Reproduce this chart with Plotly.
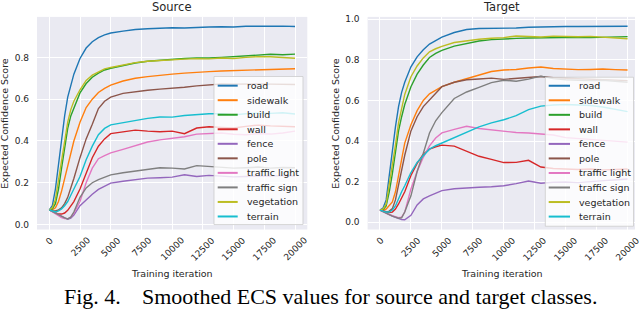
import plotly.graph_objects as go

W, H = 640, 310

ITER = [0, 250, 500, 750, 1000, 1250, 1500, 1750, 2000, 2500, 3000, 3500, 4000, 4500, 5000,
        6000, 7000, 8000, 9000, 10000, 11000, 12000, 13000, 14000, 15000, 16000, 17000, 18000, 19000, 20000]

CLASSES = ["road", "sidewalk", "build", "wall", "fence", "pole", "traffic light",
           "traffic sign", "vegetation", "terrain"]
COLORS = ["#1f77b4", "#ff7f0e", "#2ca02c", "#d62728", "#9467bd", "#8c564b", "#e377c2",
          "#7f7f7f", "#bcbd22", "#17becf"]

XTICKS = [0, 2500, 5000, 7500, 10000, 12500, 15000, 17500, 20000]
YTICKS_SRC = [0.0, 0.2, 0.4, 0.6, 0.8]
YTICKS_TGT = [0.0, 0.2, 0.4, 0.6, 0.8, 1.0]

# ---- Source ----
SRC_ROAD = [.07, .09, .17, .29, .41, .52, .61, .67, .72, .795, .845, .875, .895, .908, .917,
            .926, .934, .937, .941, .942, .941, .945, .946, .947, .946, .949, .950, .949, .950, .948]
SRC_SIDEWALK = [.07, .07, .08, .11, .16, .22, .29, .35, .40, .49, .56, .60, .632, .652, .667,
                .687, .700, .708, .715, .720, .725, .730, .732, .735, .737, .738, .740, .742, .743, .746]
SRC_BUILD = [.07, .075, .10, .17, .27, .36, .46, .52, .56, .63, .675, .705, .725, .740, .748,
             .762, .773, .782, .787, .790, .795, .798, .797, .800, .803, .808, .812, .815, .813, .816]
SRC_WALL = [.07, .062, .055, .05, .05, .055, .068, .09, .11, .17, .25, .32, .375, .41, .435,
            .445, .452, .447, .444, .447, .435, .462, .468, .465, .462, .470, .476, .472, .470, .468]
SRC_FENCE = [.07, .062, .055, .047, .04, .032, .025, .03, .045, .09, .118, .145, .168, .185, .198,
             .207, .214, .222, .224, .227, .238, .230, .235, .232, .228, .230, .233, .232, .234, .232]
SRC_POLE = [.07, .065, .065, .07, .08, .10, .13, .17, .22, .32, .41, .48, .555, .59, .61,
            .628, .637, .643, .648, .652, .657, .664, .668, .673, .672, .674, .673, .672, .671, .670]
SRC_TLIGHT = [.07, .06, .05, .04, .033, .028, .027, .035, .055, .11, .20, .27, .315, .33, .343,
              .360, .378, .395, .405, .413, .420, .433, .437, .438, .432, .430, .435, .433, .438, .447]
SRC_TSIGN = [.07, .062, .055, .047, .04, .032, .027, .035, .06, .13, .175, .20, .215, .228, .238,
             .248, .255, .263, .272, .270, .266, .282, .278, .275, .270, .272, .275, .270, .273, .272]
SRC_VEG = [.07, .08, .12, .21, .31, .40, .49, .55, .59, .645, .69, .715, .732, .745, .752,
           .765, .775, .782, .786, .789, .792, .794, .793, .797, .795, .800, .804, .803, .800, .796]
SRC_TERRAIN = [.07, .065, .06, .065, .075, .09, .11, .14, .17, .23, .31, .375, .43, .46, .477,
               .488, .500, .508, .515, .514, .522, .527, .530, .531, .525, .530, .533, .532, .535, .529]

# ---- Target ----
TGT_ROAD = [.06, .07, .11, .24, .36, .47, .57, .64, .69, .766, .815, .85, .878, .897, .912,
            .935, .950, .955, .955, .955, .957, .961, .963, .964, .965, .965, .966, .966, .966, .966]
TGT_SIDEWALK = [.06, .06, .065, .08, .10, .15, .24, .31, .39, .48, .55, .60, .633, .652, .668,
                .690, .708, .728, .743, .750, .753, .760, .765, .758, .755, .752, .753, .755, .752, .750]
TGT_BUILD = [.06, .062, .08, .15, .24, .34, .45, .52, .58, .668, .73, .775, .812, .832, .847,
             .868, .882, .893, .900, .904, .906, .908, .909, .910, .912, .911, .910, .912, .913, .915]
TGT_WALL = [.06, .055, .05, .048, .05, .065, .09, .12, .15, .23, .29, .335, .36, .372, .38,
            .375, .350, .325, .310, .294, .295, .305, .272, .265, .262, .260, .262, .258, .260, .262]
TGT_FENCE = [.06, .052, .045, .038, .03, .024, .018, .013, .012, .034, .085, .115, .13, .145, .156,
             .165, .170, .172, .175, .180, .190, .203, .192, .197, .198, .195, .200, .205, .208, .213]
TGT_POLE = [.06, .055, .05, .055, .067, .11, .18, .25, .33, .45, .52, .57, .603, .64, .668,
            .690, .702, .706, .710, .704, .708, .712, .718, .712, .710, .708, .706, .704, .702, .698]
TGT_TLIGHT = [.06, .052, .045, .038, .032, .026, .022, .025, .05, .164, .25, .32, .376, .415, .44,
              .458, .473, .462, .455, .449, .442, .440, .436, .430, .417, .412, .408, .404, .400, .395]
TGT_TSIGN = [.06, .052, .045, .038, .03, .025, .02, .022, .05, .13, .25, .34, .44, .50, .54,
             .610, .642, .665, .688, .700, .695, .705, .720, .708, .702, .700, .698, .700, .695, .690]
TGT_VEG = [.06, .065, .09, .18, .28, .38, .49, .56, .63, .717, .77, .81, .84, .855, .867,
           .886, .895, .902, .907, .910, .918, .915, .913, .917, .915, .914, .916, .913, .908, .904]
TGT_TERRAIN = [.06, .055, .05, .05, .06, .08, .12, .15, .18, .245, .295, .33, .36, .377, .39,
               .420, .445, .470, .490, .505, .525, .555, .572, .578, .580, .577, .575, .568, .555, .545]

SOURCE = [SRC_ROAD, SRC_SIDEWALK, SRC_BUILD, SRC_WALL, SRC_FENCE, SRC_POLE,
          SRC_TLIGHT, SRC_TSIGN, SRC_VEG, SRC_TERRAIN]
TARGET = [TGT_ROAD, TGT_SIDEWALK, TGT_BUILD, TGT_WALL, TGT_FENCE, TGT_POLE,
          TGT_TLIGHT, TGT_TSIGN, TGT_VEG, TGT_TERRAIN]


def px(x):
    return x / W


def py(y):
    return 1 - y / H


FONT = "DejaVu Sans"
TXT = "#262626"
BG = "#EAEAF2"

fig = go.Figure()
for name, col, ys in zip(CLASSES, COLORS, SOURCE):
    fig.add_trace(go.Scatter(x=ITER, y=ys, mode="lines", name=name, xaxis="x", yaxis="y",
                             line=dict(color=col, width=1.4), showlegend=False))
for name, col, ys in zip(CLASSES, COLORS, TARGET):
    fig.add_trace(go.Scatter(x=ITER, y=ys, mode="lines", name=name, xaxis="x2", yaxis="y2",
                             line=dict(color=col, width=1.4), showlegend=False))

top, bot = 15, 229
axis_common = dict(showgrid=True, gridcolor="white", gridwidth=1, zeroline=False,
                   showline=False, ticks="", tickfont=dict(family=FONT, size=9, color=TXT))

fig.update_layout(
    width=W, height=H, margin=dict(l=0, r=0, t=0, b=0),
    paper_bgcolor="white", plot_bgcolor=BG, showlegend=False,
    xaxis=dict(domain=[px(37), px(307.3)], range=[-1000, 21000], tickvals=XTICKS,
               showticklabels=False, anchor="y", **axis_common),
    yaxis=dict(domain=[py(bot), py(top)], range=[-0.024, 0.994], tickvals=YTICKS_SRC,
               tickformat=".1f", ticklabelstandoff=7, anchor="x", **axis_common),
    xaxis2=dict(domain=[px(367.6), px(635)], range=[-1000, 20600], tickvals=XTICKS,
                showticklabels=False, anchor="y2", **axis_common),
    yaxis2=dict(domain=[py(bot), py(top)], range=[-0.036, 1.012], tickvals=YTICKS_TGT,
                tickformat=".1f", ticklabelstandoff=7, anchor="x2", **axis_common),
)

ann = []
shapes = []

# panel titles, axis titles, rotated x tick labels
for xref, cx, title, ylx in [("x", 172, "Source", 5), ("x2", 501.5, "Target", 336)]:
    ann.append(dict(text=title, x=px(cx), y=py(13), xref="paper", yref="paper",
                    xanchor="center", yanchor="bottom", showarrow=False, borderpad=0,
                    font=dict(family=FONT, size=11.5, color=TXT)))
    ann.append(dict(text="Training iteration", x=px(cx), y=py(273), xref="paper", yref="paper",
                    xanchor="center", yanchor="middle", showarrow=False,
                    font=dict(family=FONT, size=9.5, color=TXT)))
    ann.append(dict(text="Expected Confidence Score", x=px(ylx), y=py(122.5), xref="paper",
                    yref="paper", xanchor="center", yanchor="middle", textangle=-90,
                    showarrow=False, font=dict(family=FONT, size=9.5, color=TXT)))
    for t in XTICKS:
        ann.append(dict(text=str(t), x=t, y=py(233), xref=xref, yref="paper",
                        xanchor="center", yanchor="top", textangle=-45, showarrow=False,
                        borderpad=0, font=dict(family=FONT, size=9, color=TXT)))

# legends (drawn in matplotlib style)
for (x0, y0, x1, y1, lx0, lx1, tx, ey0) in [(214, 75, 303, 224, 217.7, 237.7, 245.3, 84.2),
                                            (545.3, 75.7, 633.5, 225.7, 548.7, 570, 576.7, 84.3)]:
    shapes.append(dict(type="rect", xref="paper", yref="paper", x0=px(x0), x1=px(x1),
                       y0=py(y0), y1=py(y1), fillcolor="rgba(255,255,255,0.8)",
                       line=dict(color="rgba(204,204,204,0.8)", width=1), layer="above"))
    for i, (name, col) in enumerate(zip(CLASSES, COLORS)):
        yy = ey0 + i * 14.63
        shapes.append(dict(type="line", xref="paper", yref="paper", x0=px(lx0), x1=px(lx1),
                           y0=py(yy), y1=py(yy), line=dict(color=col, width=2), layer="above"))
        ann.append(dict(text=name, x=px(tx), y=py(yy), xref="paper", yref="paper",
                        xanchor="left", yanchor="middle", showarrow=False,
                        font=dict(family=FONT, size=9.5, color=TXT)))

# caption
CAP_FONT = dict(family="Liberation Serif, Times New Roman, serif", size=22, color="black")
ann.append(dict(text="Fig. 4.", x=px(62), y=py(296), xref="paper", yref="paper",
                xanchor="left", yanchor="middle", showarrow=False, font=CAP_FONT))
ann.append(dict(text="Smoothed ECS values for source and target classes.", x=px(599), y=py(296),
                xref="paper", yref="paper", xanchor="right", yanchor="middle",
                showarrow=False, font=CAP_FONT))

fig.update_layout(annotations=ann, shapes=shapes)
fig.write_html("out.html", config={"displayModeBar": False},
               post_script="document.body.style.margin='0';")
